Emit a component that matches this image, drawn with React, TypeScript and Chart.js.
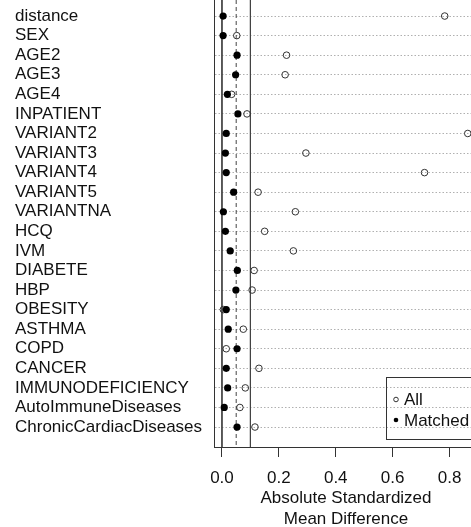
import React, { useEffect, useRef } from 'react';
import { Chart, registerables } from 'chart.js';

Chart.register(...registerables);

const covariates = [
  'distance', 'SEX', 'AGE2', 'AGE3', 'AGE4', 'INPATIENT', 'VARIANT2', 'VARIANT3',
  'VARIANT4', 'VARIANT5', 'VARIANTNA', 'HCQ', 'IVM', 'DIABETE', 'HBP', 'OBESITY',
  'ASTHMA', 'COPD', 'CANCER', 'IMMUNODEFICIENCY', 'AutoImmuneDiseases', 'ChronicCardiacDiseases',
];
const allValues = [
  0.783, 0.052, 0.227, 0.222, 0.034, 0.088, 0.864, 0.295, 0.712, 0.127, 0.258,
  0.150, 0.251, 0.113, 0.106, 0.005, 0.075, 0.015, 0.130, 0.082, 0.063, 0.116,
];
const matchedValues = [
  0.004, 0.004, 0.053, 0.048, 0.019, 0.056, 0.015, 0.012, 0.015, 0.041, 0.005,
  0.012, 0.029, 0.054, 0.049, 0.015, 0.022, 0.053, 0.015, 0.020, 0.008, 0.053,
];
const seriesNames = ['All', 'Matched'];
const xTicks = [0, 0.2, 0.4, 0.6, 0.8];
const thresholds = [0, 0.05, 0.1];
const thresholdDashed = [false, true, false];
const axisTitle = ['Absolute Standardized', 'Mean Difference'];

const X_MIN = -0.028;
const X_MAX = 0.9;
const Y_MIN = 0.18;
const Y_MAX = 23.02;

const FONT = "'Liberation Sans', Arial, sans-serif";
const TEXT = '#111';

const boxLegend = {
  id: 'boxLegend',
  afterDatasetsDraw(chart: any) {
    const ctx = chart.ctx;
    const area = chart.chartArea;
    const left = area.left + 172.5;
    const top = area.bottom - 69.5;
    const h = 62;
    ctx.save();
    ctx.strokeStyle = '#333';
    ctx.lineWidth = 1;
    ctx.strokeRect(left, top, 200, h);
    ctx.font = `17px ${FONT}`;
    ctx.textBaseline = 'middle';
    ctx.textAlign = 'left';
    chart.data.datasets.slice(0, 2).forEach((ds: any, i: number) => {
      const cy = top + 22 + i * 20.5;
      const cx = left + 9.5;
      ctx.beginPath();
      ctx.arc(cx, cy, 2.3, 0, Math.PI * 2);
      if (i === 0) {
        ctx.strokeStyle = '#333';
        ctx.lineWidth = 1;
        ctx.stroke();
      } else {
        ctx.fillStyle = '#000';
        ctx.fill();
      }
      ctx.fillStyle = TEXT;
      ctx.fillText(ds.label, left + 17.5, cy + 1);
    });
    ctx.restore();
  },
};

export default function App() {
  const ref = useRef<HTMLCanvasElement>(null);
  useEffect(() => {
    if (!ref.current) return;
    const lineSets = thresholds.map((t, i) => ({
      type: 'line' as const,
      label: '',
      data: [{ x: t, y: Y_MIN }, { x: t, y: Y_MAX }],
      borderColor: '#444',
      borderWidth: 1,
      borderDash: thresholdDashed[i] ? [4, 3] : [],
      pointRadius: 0,
      fill: false,
      order: 10,
    }));
    const chart = new Chart(ref.current, {
      type: 'scatter',
      data: {
        datasets: [
          {
            label: seriesNames[0],
            data: allValues.map((v, i) => ({ x: v, y: i + 1 })),
            pointRadius: 3.3,
            pointBorderWidth: 1,
            pointBorderColor: '#333',
            pointBackgroundColor: 'rgba(0,0,0,0)',
            order: 2,
          },
          {
            label: seriesNames[1],
            data: matchedValues.map((v, i) => ({ x: v, y: i + 1 })),
            pointRadius: 3.6,
            pointBorderWidth: 0,
            pointBorderColor: '#000',
            pointBackgroundColor: '#000',
            order: 1,
          },
          ...lineSets,
        ] as any,
      },
      options: {
        responsive: false,
        animation: false,
        events: [],
        layout: { autoPadding: false, padding: { left: 15, top: 0, right: 0, bottom: 0 } },
        plugins: { legend: { display: false }, tooltip: { enabled: false } },
        scales: {
          x: {
            type: 'linear',
            position: 'bottom',
            bounds: 'data',
            min: X_MIN,
            max: X_MAX,
            afterBuildTicks: (s: any) => {
              s.ticks = xTicks.map((v) => ({ value: v }));
            },
            afterFit: (s: any) => {
              s.height = 80;
              s.paddingLeft = 0;
              s.paddingRight = 0;
            },
            grid: {
              display: true,
              drawOnChartArea: false,
              drawTicks: true,
              tickLength: 10,
              color: '#333',
              tickColor: '#333',
            },
            border: { display: true, color: '#333', width: 1 },
            ticks: {
              padding: 11,
              color: TEXT,
              autoSkip: false,
              maxRotation: 0,
              font: { family: FONT, size: 17 },
              callback: (v: any) => Number(v).toFixed(1),
            },
            title: {
              display: true,
              text: axisTitle,
              color: TEXT,
              font: { family: FONT, size: 17, lineHeight: 21 / 17 },
              padding: { top: 0, bottom: -3 },
            },
          },
          y: {
            type: 'linear',
            bounds: 'data',
            min: Y_MIN,
            max: Y_MAX,
            reverse: true,
            afterBuildTicks: (s: any) => {
              s.ticks = covariates.map((_, i) => ({ value: i + 1 }));
            },
            afterFit: (s: any) => {
              s.width = 199;
              s.paddingTop = 0;
              s.paddingBottom = 0;
            },
            grid: {
              display: true,
              drawOnChartArea: true,
              drawTicks: false,
              color: '#b0b0b0',
              lineWidth: 1,
            },
            border: { display: true, color: '#333', width: 1, dash: [1.5, 2] },
            ticks: {
              crossAlign: 'far',
              padding: 0,
              autoSkip: false,
              color: TEXT,
              font: { family: FONT, size: 17 },
              callback: (v: any) => covariates[Math.round(Number(v)) - 1] ?? '',
            },
          },
        },
      } as any,
      plugins: [boxLegend],
    });
    return () => chart.destroy();
  }, []);

  return (
    <div style={{ position: 'absolute', left: 0, top: 0, width: 471, height: 527, overflow: 'hidden', background: '#fff' }}>
      <canvas ref={ref} width={478} height={527} style={{ display: 'block' }} />
    </div>
  );
}
